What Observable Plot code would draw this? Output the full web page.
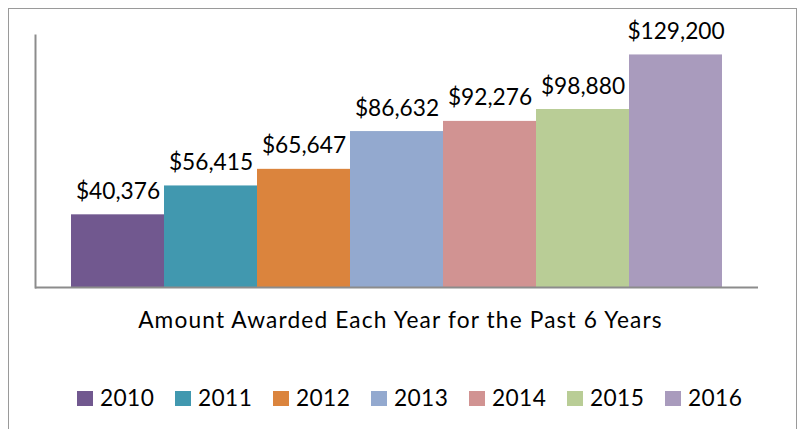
<!DOCTYPE html>
<html>
<head>
<meta charset="utf-8">
<script src="https://cdn.jsdelivr.net/npm/d3@7"></script>
<script src="https://cdn.jsdelivr.net/npm/@observablehq/plot@0.6"></script>
<style>
  html, body { margin: 0; padding: 0; background: #fff; }
  #wrap { position: relative; width: 801px; height: 429px; overflow: hidden; font-family: Lato, "Open Sans", sans-serif; color: #000; }
  #border { position: absolute; left: 8px; top: 8px; width: 789px; height: 440px; border: 1.5px solid #9a9a9a; box-sizing: border-box; }
  #chart { position: absolute; left: 0; top: 0; }
  #title { position: absolute; left: 0; width: 801px; top: 306px; text-align: center; font-size: 22.7px; letter-spacing: 1.15px; line-height: 1.2; white-space: nowrap; }
  #legend { position: absolute; left: 77px; top: 383.5px; display: flex; font-size: 22.7px; letter-spacing: 0.4px; line-height: 1.2; white-space: nowrap; }
  .item { width: 98px; display: flex; align-items: center; }
  .sw { width: 16px; height: 15px; margin-right: 7px; flex: none; position: relative; top: 1px; }
</style>
</head>
<body>
<div id="wrap">
  <div id="border"></div>
  <div id="chart"></div>
  <div id="title"></div>
  <div id="legend"></div>
</div>
<script>
const years = ["2010", "2011", "2012", "2013", "2014", "2015", "2016"];
const amounts = [40376, 56415, 65647, 86632, 92276, 98880, 129200];
const colors = ["#71588F", "#4198AF", "#DB843D", "#93A9CF", "#D19392", "#B9CD96", "#A99BBD"];
const titleText = "Amount Awarded Each Year for the Past 6 Years";

const data = years.map((y, i) => ({year: y, value: amounts[i]}));
const fmt = v => "$" + d3.format(",")(v);

const chart = Plot.plot({
  width: 801,
  height: 300,
  marginLeft: 35,
  marginRight: 43,
  marginTop: 35,
  marginBottom: 13,
  style: {fontFamily: "Lato, 'Open Sans', sans-serif", background: "transparent"},
  x: {type: "band", domain: years, paddingInner: 0, paddingOuter: 0.37, axis: null},
  y: {domain: [0, 140000], axis: null},
  color: {domain: years, range: colors},
  marks: [
    Plot.barY(data, {x: "year", y: "value", fill: "year"}),
    Plot.ruleY([0], {stroke: "#8c8c8c", strokeWidth: 2}),
    Plot.frame({anchor: "left", stroke: "#8c8c8c", strokeWidth: 2}),
    Plot.text(data, {x: "year", y: "value", text: d => fmt(d.value), lineAnchor: "bottom", dy: -16, fontSize: 22.7, fill: "#000"})
  ]
});
document.getElementById("chart").appendChild(chart);

document.getElementById("title").textContent = titleText;
const legend = document.getElementById("legend");
years.forEach((y, i) => {
  const it = document.createElement("div");
  it.className = "item";
  const sw = document.createElement("span");
  sw.className = "sw";
  sw.style.background = colors[i];
  const t = document.createElement("span");
  t.textContent = y;
  it.appendChild(sw);
  it.appendChild(t);
  legend.appendChild(it);
});
</script>
</body>
</html>
